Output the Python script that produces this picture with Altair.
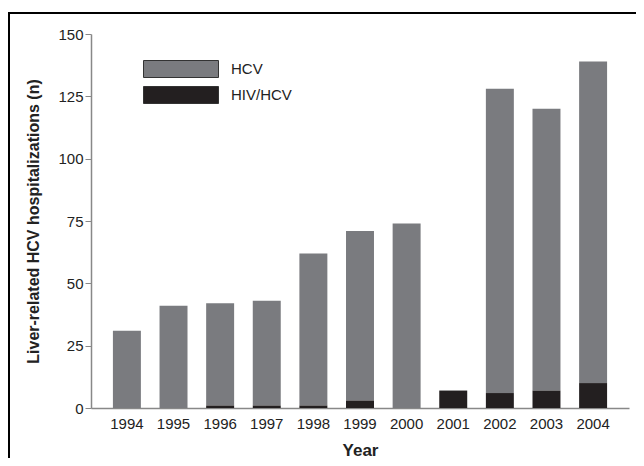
import altair as alt
import pandas as pd

years = ["1994", "1995", "1996", "1997", "1998", "1999", "2000", "2001", "2002", "2003", "2004"]
hcv_only = [31, 41, 41, 42, 61, 68, 74, 0, 122, 113, 129]
hiv_hcv = [0, 0, 1, 1, 1, 3, 0, 7, 6, 7, 10]
groups = ["HCV", "HIV/HCV"]
colors = ["#7a7b7f", "#231f20"]
y_ticks = [0, 25, 50, 75, 100, 125, 150]

rows = []
for y, a, b in zip(years, hcv_only, hiv_hcv):
    rows.append({"Year": y, "group": "HCV", "n": a, "ord": 1})
    rows.append({"Year": y, "group": "HIV/HCV", "n": b, "ord": 0})
df = pd.DataFrame(rows)

W, H = 538, 374
font = "Liberation Sans"

bars = alt.Chart(df).mark_bar().encode(
    x=alt.X("Year:O", sort=years,
            scale=alt.Scale(paddingInner=0.4, paddingOuter=0.47),
            axis=alt.Axis(title="Year", labelAngle=0, ticks=False, labelPadding=8,
                          labelFontSize=15, labelColor="#222", domainColor="#888",
                          domainWidth=1.5, titleFontSize=17, titleFontWeight="bold",
                          titleColor="#222", titlePadding=11, labelFont=font, titleFont=font)),
    y=alt.Y("n:Q", stack="zero", scale=alt.Scale(domain=[0, 150], nice=False),
            axis=alt.Axis(title="Liver-related HCV hospitalizations (n)", values=y_ticks,
                          grid=False, tickSize=6, tickColor="#888", domainColor="#888",
                          domainWidth=1.5, labelFontSize=15, labelColor="#222", labelPadding=2,
                          titleFontSize=16, titleFontWeight="bold", titleColor="#222",
                          titleY=H / 2, titleX=-50, titleAngle=270, titleAlign="center",
                          titleBaseline="bottom", labelFont=font, titleFont=font)),
    color=alt.Color("group:N", scale=alt.Scale(domain=groups, range=colors),
                    legend=alt.Legend(title=None, orient="none", legendX=77, legendY=22,
                                      symbolType="M-3,-0.68L3,-0.68L3,0.68L-3,0.68Z",
                                      symbolSize=625, symbolStrokeColor="#333",
                                      symbolStrokeWidth=1, symbolOpacity=1,
                                      labelFontSize=15, labelColor="#222", labelFont=font,
                                      labelOffset=37, rowPadding=2)),
    order=alt.Order("ord:Q"),
)

frame_left = alt.Chart(alt.Data(values=[{}])).mark_rule(color="#000", strokeWidth=2).encode(
    x=alt.value(-82), y=alt.value(-21), y2=alt.value(600))
frame_top = alt.Chart(alt.Data(values=[{}])).mark_rule(color="#000", strokeWidth=2).encode(
    x=alt.value(-83), x2=alt.value(700), y=alt.value(-21))

chart = alt.layer(bars, frame_left, frame_top).properties(
    width=W, height=H,
    autosize=alt.AutoSizeParams(type="none"),
    padding={"left": 83, "top": 26, "right": 7, "bottom": 50},
).configure_view(stroke=None)

chart.save("out.html", embed_options={"renderer": "svg", "actions": False})
